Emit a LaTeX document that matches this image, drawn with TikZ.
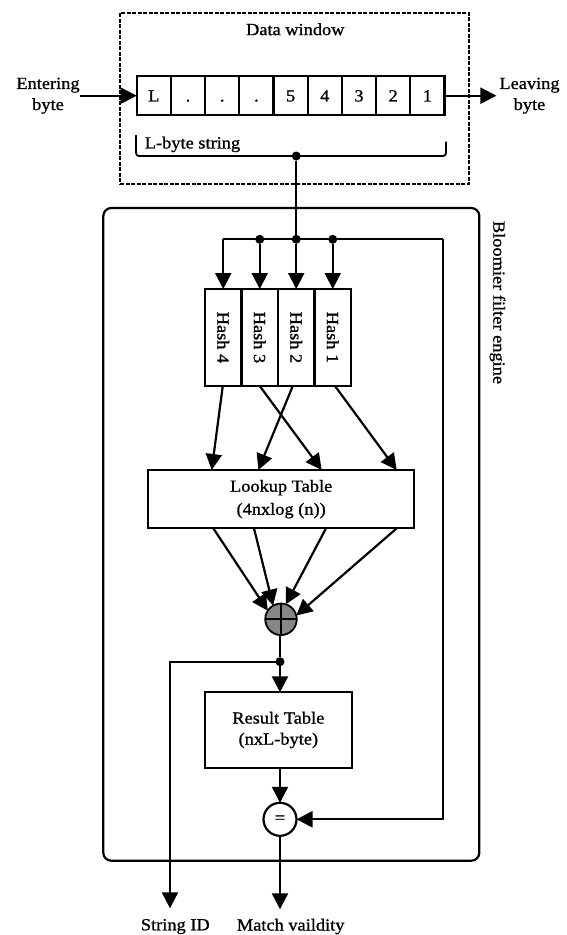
\documentclass[tikz,border=0pt]{standalone}
\usepackage{fontspec}
\usepackage{graphicx}
\setmainfont{Liberation Serif}[FakeStretch=1.08,FakeBold=1]
\usetikzlibrary{arrows.meta}
\definecolor{xorgray}{HTML}{878787}

\begin{document}
\begin{tikzpicture}[x=1pt,y=-1pt,
  every node/.style={font=\fontsize{17}{21}\selectfont, inner sep=0pt, outer sep=0pt},
  wire/.style={line width=2.2pt},
  arr/.style={wire,-{Triangle[length=16pt,width=16pt]}},
  cell/.style={draw,line width=2.2pt,minimum width=34.2pt,minimum height=39pt,
               text height=11.5pt,text depth=0pt},
  hashbox/.style={draw,line width=2.2pt,minimum width=36.5pt,minimum height=97pt},
  tablebox/.style={draw,line width=2.2pt,align=center},
  junction/.style={circle,fill=black,minimum size=9pt},
]
\useasboundingbox (0,0) rectangle (566,935);

% ---------- data window ----------
\node[draw, dash pattern=on 4pt off 1.5pt, line width=1.7pt,
      minimum width=348.7pt, minimum height=171.3pt] (window) at (294.35,98.35) {};
\node (wintitle) at (295.3,29.3) {Data window};

\foreach \t [count=\i] in {L,.,.,.,5,4,3,2,1}
  \node[cell] (c\i) at ({136.7+34.2*(\i-0.5)},95.7) {\t};

\node[align=center] (enter) at (48,95.7) {Entering\\byte};
\node[align=center] (leave) at (529.5,95.7) {Leaving\\byte};
\draw[arr] (enter.east) -- (c1.west);
\draw[arr, shorten >=3pt] (c9.east) -- (leave.west);

% L-byte string bracket
\node (lbyte) at (192.5,144.4) {L-byte string};
\draw[line width=1.8pt, rounded corners=3pt] (136,135) -- (136,156) -- (446,156) -- (446,141.7);
\node[junction] (jw) at (296.25,156) {};

% ---------- Bloomier filter engine ----------
\node[draw, rounded corners=8pt, line width=2.2pt,
      minimum width=376pt, minimum height=652.7pt] (engine) at (291.3,534.35) {};
\node (englabel) at (497.5,302.5) {\rotatebox{-90}{Bloomier filter engine}};

% distribution bus
\coordinate (busL) at (223.25,239.3);
\coordinate (busR) at (442.7,239.3);
\node[junction] (j3) at (259.75,239.3) {};
\node[junction] (j2) at (296.25,239.3) {};
\node[junction] (j1) at (332.75,239.3) {};
\draw[wire] (jw) -- (j2);
\draw[wire] (busL) -- (busR);

% hash functions
\node[hashbox] (h4) at (223.25,337.5) {\rotatebox{-90}{Hash 4}};
\node[hashbox] (h3) at (259.75,337.5) {\rotatebox{-90}{Hash 3}};
\node[hashbox] (h2) at (296.25,337.5) {\rotatebox{-90}{Hash 2}};
\node[hashbox] (h1) at (332.75,337.5) {\rotatebox{-90}{Hash 1}};
\draw[arr] (busL) -- (h4.north);
\draw[arr] (j3) -- (h3.north);
\draw[arr] (j2) -- (h2.north);
\draw[arr] (j1) -- (h1.north);

% lookup table
\node[tablebox, minimum width=265.7pt, minimum height=58.3pt,
      font=\fontsize{17}{23}\selectfont] (lookup) at (281.15,499.15) {Lookup Table\\(4nxlog (n))};
\draw[arr] ([xshift=-0.5pt]h4.south) -- ([xshift=63.4pt]lookup.north west);
\draw[arr] (h3.south) -- ([xshift=173.4pt]lookup.north west);
\draw[arr] ([xshift=-3.5pt]h2.south) -- ([xshift=110pt]lookup.north west);
\draw[arr] ([xshift=2.25pt]h1.south) -- ([xshift=248.4pt]lookup.north west);

% XOR combiner
\node[circle, draw, fill=xorgray, line width=1.8pt, minimum size=31.5pt] (xor) at (281,619.3) {};
\draw[line width=1.8pt] (xor.north) -- (xor.south) (xor.east) -- (xor.west);
\draw[arr] ([xshift=65pt]lookup.south west) -- (xor.147);
\draw[arr] ([xshift=105.7pt]lookup.south west) -- (xor.120);
\draw[arr] ([xshift=177.7pt]lookup.south west) -- (xor.72);
\draw[arr] ([xshift=248.4pt]lookup.south west) -- (xor.14);

% result table and comparator
\node[junction] (jr) at (280,661.7) {};
\draw[wire] (xor.south -| jr) -- (jr);
\node[tablebox, minimum width=146.7pt, minimum height=75.4pt] (result) at (278.35,730) {Result Table\\(nxL-byte)};
\draw[arr] (jr) -- (jr |- result.north);

\node[circle, draw, fill=white, line width=2.2pt, minimum size=33pt] (eq) at (280,819.3) {=};
\draw[arr] (result.south -| eq) -- (eq);
\draw[arr] (busR) |- (eq.east);

% outputs
\coordinate (sidtip) at (170,908.3);
\coordinate (mvtip) at (280,909.3);
\draw[arr] (jr) -| (sidtip);
\draw[arr] (eq) -- (mvtip);
\node (sid) at (175.3,926.5) {String ID};
\node (mv) at (290.7,926.5) {Match vaildity};
\end{tikzpicture}
\end{document}
